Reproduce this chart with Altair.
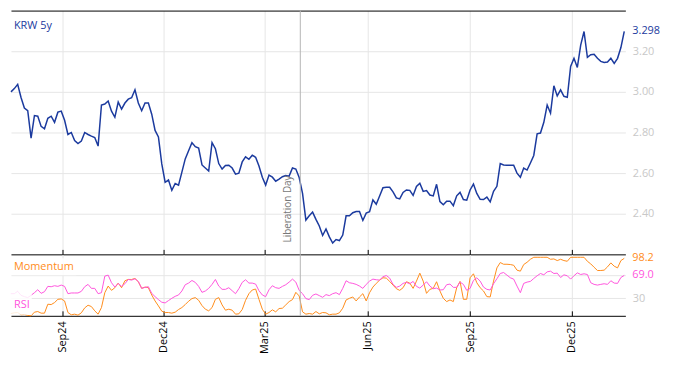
import altair as alt
import pandas as pd

# ---------------- data ----------------
dates = pd.date_range("2024-07-17", periods=184, freq="3D")

krw5y = [
    3.000, 3.016, 3.037, 2.972, 2.920, 2.907, 2.772, 2.883, 2.880, 2.830,
    2.818, 2.870, 2.880, 2.850, 2.900, 2.905, 2.860, 2.790, 2.800, 2.760,
    2.745, 2.758, 2.800, 2.790, 2.782, 2.775, 2.733, 2.935, 2.940, 2.955,
    2.905, 2.875, 2.950, 2.915, 2.945, 2.964, 2.971, 3.010, 2.945, 2.907,
    2.945, 2.945, 2.890, 2.810, 2.778, 2.645, 2.555, 2.566, 2.515, 2.549,
    2.541, 2.605, 2.670, 2.710, 2.750, 2.730, 2.723, 2.640, 2.625, 2.610,
    2.750, 2.720, 2.647, 2.620, 2.638, 2.639, 2.625, 2.595, 2.600, 2.655,
    2.680, 2.668, 2.688, 2.678, 2.635, 2.580, 2.541, 2.590, 2.580, 2.560,
    2.570, 2.582, 2.588, 2.585, 2.625, 2.620, 2.578, 2.500, 2.369, 2.390,
    2.408, 2.372, 2.340, 2.293, 2.325, 2.286, 2.256, 2.273, 2.268, 2.295,
    2.390, 2.390, 2.405, 2.411, 2.411, 2.367, 2.403, 2.410, 2.468, 2.447,
    2.487, 2.528, 2.530, 2.530, 2.508, 2.478, 2.473, 2.505, 2.517, 2.515,
    2.490, 2.534, 2.550, 2.510, 2.514, 2.492, 2.488, 2.545, 2.460, 2.444,
    2.462, 2.462, 2.440, 2.488, 2.505, 2.470, 2.467, 2.517, 2.546, 2.500,
    2.471, 2.470, 2.482, 2.458, 2.510, 2.535, 2.647, 2.640, 2.639, 2.639,
    2.639, 2.600, 2.580, 2.625, 2.615, 2.650, 2.687, 2.793, 2.797, 2.850,
    2.935, 2.895, 3.030, 2.980, 3.010, 2.978, 2.973, 3.125, 3.165, 3.120,
    3.230, 3.297, 3.170, 3.183, 3.185, 3.165, 3.150, 3.145, 3.147, 3.165,
    3.140, 3.165, 3.218, 3.298,
]

rsi = [
    37.8, 37.8, 41.8, 35.0, 32.8, 31.1, 35.0, 39.5, 44.6, 38.4,
    41.2, 50.3, 49.7, 51.4, 50.3, 52.5, 50.3, 37.8, 39.0, 39.0,
    39.0, 41.8, 49.7, 53.7, 46.9, 46.9, 37.8, 39.5, 67.8, 69.5,
    56.5, 49.1, 55.4, 50.3, 54.8, 62.1, 61.0, 63.3, 58.8, 46.9,
    48.6, 49.7, 38.4, 32.8, 27.7, 23.2, 22.0, 26.0, 29.9, 33.3,
    35.6, 42.4, 53.1, 55.9, 60.4, 57.1, 50.3, 40.1, 42.4, 46.9,
    53.7, 62.1, 50.8, 45.2, 45.2, 48.0, 42.9, 37.8, 46.3, 57.1,
    61.6, 55.9, 55.9, 54.2, 42.9, 35.6, 32.8, 44.6, 51.4, 48.0,
    46.9, 50.3, 53.1, 57.6, 62.7, 57.6, 43.5, 37.8, 29.4, 27.7,
    35.0, 37.3, 34.5, 31.6, 36.2, 34.5, 37.8, 39.5, 36.2, 46.9,
    59.9, 56.5, 55.4, 53.7, 50.8, 46.9, 53.7, 59.3, 62.7, 61.6,
    61.0, 66.7, 68.9, 64.4, 53.7, 48.6, 50.8, 55.4, 57.1, 54.8,
    58.8, 50.3, 47.4, 52.5, 58.2, 50.8, 46.3, 47.4, 44.1, 44.6,
    53.1, 54.2, 48.6, 48.6, 57.6, 53.7, 43.5, 46.9, 60.4, 65.0,
    59.3, 49.1, 45.2, 44.1, 54.8, 63.3, 72.3, 74.0, 69.5, 65.0,
    62.7, 50.8, 39.5, 55.4, 57.6, 58.8, 63.8, 68.4, 72.3, 70.1,
    75.1, 76.3, 72.3, 72.9, 65.5, 70.0, 68.4, 62.7, 68.4, 73.4,
    70.6, 71.8, 70.6, 56.5, 53.7, 52.5, 53.7, 54.8, 53.7, 59.9,
    55.9, 55.4, 65.5, 69.0,
]

momentum = [
    3.9, 5.1, 5.6, 1.7, 2.3, 0.6, 0.0, 6.2, 7.3, 4.5,
    4.5, 19.8, 19.2, 22.6, 28.2, 28.8, 25.4, 5.6, 1.7, 2.8,
    1.1, 5.1, 13.5, 18.1, 15.8, 8.5, 2.8, 14.1, 39.5, 50.8,
    43.5, 48.0, 55.9, 48.0, 59.9, 62.1, 62.1, 63.8, 58.2, 46.9,
    49.1, 48.0, 35.6, 25.4, 16.9, 7.9, 5.6, 5.6, 4.5, 6.2,
    10.7, 14.1, 19.2, 24.9, 29.4, 31.1, 26.5, 17.5, 11.3, 8.5,
    14.1, 28.2, 31.1, 18.6, 9.6, 11.3, 9.6, 2.8, 3.4, 10.7,
    26.5, 37.8, 44.1, 45.8, 28.2, 11.3, 2.8, 5.6, 10.2, 6.8,
    12.4, 13.0, 18.6, 24.3, 27.7, 40.1, 33.9, 6.8, 2.8, 3.9,
    2.8, 7.3, 3.4, 5.6, 5.1, 1.7, 2.8, 2.8, 5.1, 13.0,
    27.1, 29.9, 32.2, 25.4, 32.2, 37.8, 25.4, 39.5, 49.1, 55.4,
    61.0, 65.0, 64.4, 58.8, 52.5, 46.3, 43.5, 48.0, 58.2, 55.9,
    46.9, 59.3, 72.9, 59.3, 38.4, 45.2, 46.9, 58.2, 42.4, 29.9,
    24.3, 27.1, 24.3, 48.0, 58.8, 28.2, 28.2, 65.0, 71.8, 56.5,
    48.0, 42.4, 32.8, 32.2, 59.3, 81.9, 91.0, 88.1, 88.1, 87.6,
    86.4, 78.0, 76.3, 87.6, 91.5, 96.6, 100.0, 100.0, 100.0, 100.0,
    100.0, 96.6, 97.2, 94.4, 96.6, 94.4, 93.2, 100.0, 100.0, 100.0,
    100.0, 100.0, 93.2, 88.7, 83.0, 77.4, 77.4, 78.0, 83.6, 90.4,
    84.8, 81.9, 94.4, 98.2,
]

tick_dates = ["2024-09-01", "2024-12-01", "2025-03-01", "2025-06-01", "2025-09-01", "2025-12-01"]
x_range = ["2024-07-17", "2026-01-18"]
event_date = "2025-04-02"
event_label = "Liberation Day"
main_y_ticks = [2.4, 2.6, 2.8, 3.0, 3.2]
osc_y_ticks = [30, 70]

# ---------------- style ----------------
BLUE = "#1b3a9e"
ORANGE = "#ff8c1a"
PINK = "#ff55dd"
GRID = "#e6e6e6"
LIGHT = "#c8c8c8"
FONT = "Open Sans"
W, H1, H2 = 620, 246, 62


def dt(s):
    y, m, d = map(int, s.split("-"))
    return alt.DateTime(year=y, month=m, date=d)


xscale = alt.Scale(domain=[dt(x_range[0]), dt(x_range[1])])
tick_vals = [dt(s) for s in tick_dates]

main_df = pd.DataFrame({"date": dates, "value": krw5y})
osc_df = pd.DataFrame({"date": dates, "Momentum": momentum, "RSI": rsi})
event_df = pd.DataFrame({"date": [pd.Timestamp(event_date)], "label": [event_label]})
last_main = main_df.tail(1)
last_osc = osc_df.tail(1)

# ---------------- main panel ----------------
main_line = alt.Chart(main_df).mark_line(color=BLUE, strokeWidth=1.5).encode(
    x=alt.X("date:T", scale=xscale,
            axis=alt.Axis(orient="bottom", values=tick_vals, labels=False, ticks=False,
                          domain=True, domainColor="black", grid=True, gridColor=GRID, title=None)),
    y=alt.Y("value:Q", scale=alt.Scale(domain=[2.2, 3.4], nice=False, zero=False),
            axis=alt.Axis(orient="right", values=main_y_ticks, format=".2f", grid=True,
                          gridColor=GRID, domain=False, ticks=False, tickSize=0, labelPadding=7,
                          labelColor=LIGHT, labelFontSize=11, labelFont=FONT, title=None)),
)

ev_rule = alt.Chart(event_df).mark_rule(color="#b4b4b4", strokeWidth=1).encode(
    x=alt.X("date:T", scale=xscale,
            axis=alt.Axis(orient="top", labels=False, ticks=False, grid=False, domain=True,
                          domainColor="black", title=None)),
)

ev_text = alt.Chart(event_df).mark_text(
    angle=270, align="left", baseline="middle", dy=-12, fontSize=10, color="#777777", font=FONT
).encode(
    x=alt.X("date:T", scale=xscale, axis=None),
    y=alt.value(234),
    text="label:N",
)

krw_text = alt.Chart(pd.DataFrame({"t": ["KRW 5y"]})).mark_text(
    align="left", baseline="middle", color=BLUE, fontSize=11, font=FONT
).encode(x=alt.value(3), y=alt.value(16), text="t:N")

last_text = alt.Chart(last_main).mark_text(
    align="left", baseline="middle", color=BLUE, fontSize=11, font=FONT
).encode(
    x=alt.value(W + 7),
    y=alt.Y("value:Q", axis=None),
    text=alt.Text("value:Q", format=".3f"),
)

main = alt.layer(main_line, ev_rule, ev_text, krw_text, last_text).resolve_axis(
    x="independent", y="independent"
).properties(width=W, height=H1)

# ---------------- oscillator panel ----------------
mom_line = alt.Chart(osc_df).mark_line(color=ORANGE, strokeWidth=1).encode(
    x=alt.X("date:T", scale=xscale,
            axis=alt.Axis(orient="top", values=tick_vals, labels=False, ticks=True, tickSize=5,
                          tickColor="black", domain=False, grid=True, gridColor=GRID, title=None)),
    y=alt.Y("Momentum:Q", scale=alt.Scale(domain=[0, 105], nice=False),
            axis=alt.Axis(orient="right", values=osc_y_ticks,
                          labelExpr="datum.value == 30 ? '30' : ''", grid=True, gridColor=GRID,
                          domain=False, ticks=False, tickSize=0, labelPadding=7,
                          labelColor=LIGHT, labelFontSize=11, labelFont=FONT, title=None)),
)

rsi_line = alt.Chart(osc_df).mark_line(color=PINK, strokeWidth=1).encode(
    x=alt.X("date:T", scale=xscale,
            axis=alt.Axis(orient="bottom", values=tick_vals, format="%b%y", labelAngle=270,
                          labelColor="black", labelFontSize=11, labelFont=FONT, labelPadding=5,
                          ticks=False, tickSize=0, domain=True, domainColor="black",
                          grid=False, title=None)),
    y=alt.Y("RSI:Q", axis=None),
)

ev_rule2 = alt.Chart(event_df).mark_rule(color="#b4b4b4", strokeWidth=1).encode(
    x=alt.X("date:T", scale=xscale,
            axis=alt.Axis(orient="top", offset=-H2, values=tick_vals, labels=False, ticks=True,
                          tickSize=5, tickColor="black", domain=False, grid=False, title=None)),
)

bg = pd.DataFrame({"a": [0]})
mom_bg = alt.Chart(bg).mark_rect(color="white", opacity=0.85).encode(
    x=alt.value(0), x2=alt.value(66), y=alt.value(4), y2=alt.value(21))
rsi_bg = alt.Chart(bg).mark_rect(color="white", opacity=0.85).encode(
    x=alt.value(0), x2=alt.value(21), y=alt.value(37), y2=alt.value(61))

mom_lbl = alt.Chart(pd.DataFrame({"t": ["Momentum"]})).mark_text(
    align="left", baseline="middle", color=ORANGE, fontSize=11, font=FONT
).encode(x=alt.value(3), y=alt.value(13), text="t:N")
rsi_lbl = alt.Chart(pd.DataFrame({"t": ["RSI"]})).mark_text(
    align="left", baseline="middle", color=PINK, fontSize=11, font=FONT
).encode(x=alt.value(3), y=alt.value(51), text="t:N")

mom_last = alt.Chart(last_osc).mark_text(
    align="left", baseline="middle", color=ORANGE, fontSize=11, font=FONT
).encode(x=alt.value(W + 7), y=alt.Y("Momentum:Q", axis=None),
         text=alt.Text("Momentum:Q", format=".1f"))
rsi_last = alt.Chart(last_osc).mark_text(
    align="left", baseline="middle", color=PINK, fontSize=11, font=FONT
).encode(x=alt.value(W + 7), y=alt.Y("RSI:Q", axis=None),
         text=alt.Text("RSI:Q", format=".1f"))

lower = alt.layer(
    mom_line, rsi_line, ev_rule2, mom_bg, rsi_bg, mom_lbl, rsi_lbl, mom_last, rsi_last
).resolve_axis(x="independent", y="independent").properties(width=W, height=H2)

chart = (
    alt.vconcat(main, lower, spacing=0)
    .properties(bounds="flush", padding={"left": 0, "top": 0, "right": 5, "bottom": 5})
    .configure(font=FONT)
    .configure_view(stroke=None)
)

chart.save("out.html", embed_options={"renderer": "svg", "actions": False})
